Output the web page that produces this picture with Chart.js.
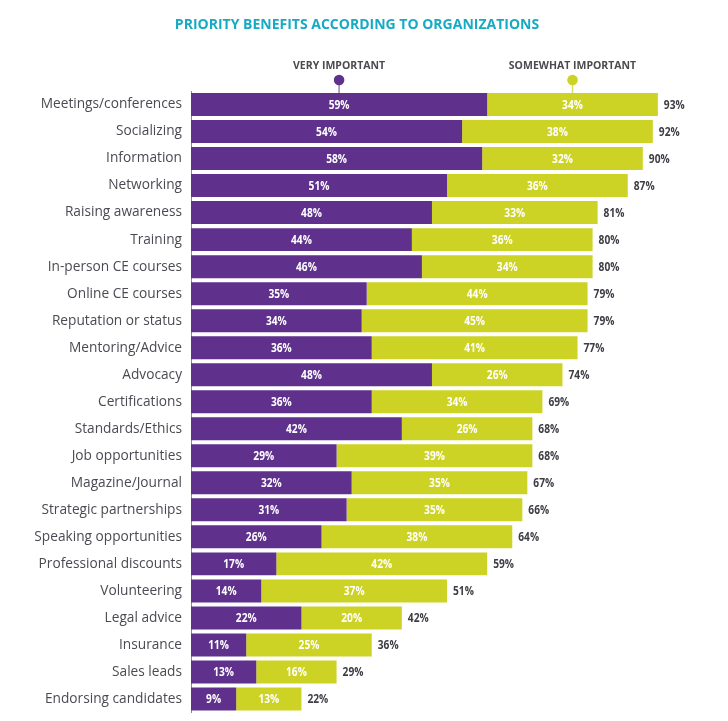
<!DOCTYPE html>
<html>
<head>
<meta charset="utf-8">
<script src="https://cdn.jsdelivr.net/npm/chart.js@4.4.0/dist/chart.umd.min.js"></script>
<style>
  html, body { margin: 0; padding: 0; background: #fff; }
  #wrap { width: 728px; height: 721px; }
</style>
</head>
<body>
<div id="wrap"><canvas id="benefitsChart" width="728" height="721"></canvas></div>
<script>
const categories = ['Meetings/conferences', 'Socializing', 'Information', 'Networking', 'Raising awareness',
    'Training', 'In-person CE courses', 'Online CE courses', 'Reputation or status', 'Mentoring/Advice',
    'Advocacy', 'Certifications', 'Standards/Ethics', 'Job opportunities', 'Magazine/Journal',
    'Strategic partnerships', 'Speaking opportunities', 'Professional discounts', 'Volunteering',
    'Legal advice', 'Insurance', 'Sales leads', 'Endorsing candidates'];
const veryImportant = [59, 54, 58, 51, 48, 44, 46, 35, 34, 36, 48, 36, 42, 29, 32, 31, 26, 17, 14, 22, 11, 13, 9];
const somewhatImportant = [34, 38, 32, 36, 33, 36, 34, 44, 45, 41, 26, 34, 26, 39, 35, 35, 38, 42, 37, 20, 25, 16, 13];
const totals = [93, 92, 90, 87, 81, 80, 80, 79, 79, 77, 74, 69, 68, 68, 67, 66, 64, 59, 51, 42, 36, 29, 22];
const seriesNames = ['VERY IMPORTANT', 'SOMEWHAT IMPORTANT'];
const chartTitle = 'PRIORITY BENEFITS ACCORDING TO ORGANIZATIONS';

const PURPLE = '#5f318d';
const LIME = '#cdd325';

// condensed-looking text: squeeze horizontally around the anchor
function narrowText(ctx, text, x, y, squeeze) {
    ctx.save();
    ctx.translate(x, y);
    ctx.scale(squeeze, 1);
    ctx.fillText(text, 0, 0);
    ctx.restore();
}

// title, legend pins and value labels
const decorations = {
    id: 'decorations',
    afterDatasetsDraw(chart) {
        const ctx = chart.ctx;
        ctx.save();
        ctx.fillStyle = '#17aac4';
        ctx.font = 'bold 14px "Open Sans"';
        ctx.textAlign = 'center';
        ctx.textBaseline = 'middle';
        ctx.fillText(chartTitle, 357, 25);

        // value labels inside bars
        ctx.font = 'bold 12px "Open Sans"';
        chart.data.datasets.forEach((ds, di) => {
            const meta = chart.getDatasetMeta(di);
            meta.data.forEach((bar, i) => {
                const cx = (bar.x + bar.base) / 2;
                ctx.fillStyle = '#ffffff';
                narrowText(ctx, ds.data[i] + '%', cx, bar.y + 1, 0.85);
            });
        });

        // totals
        const last = chart.getDatasetMeta(1);
        ctx.fillStyle = '#3d3d45';
        ctx.textAlign = 'left';
        last.data.forEach((bar, i) => {
            narrowText(ctx, totals[i] + '%', bar.x + 6, bar.y + 1, 0.85);
        });

        // legend pins above first row
        const colors = [PURPLE, LIME];
        [0, 1].forEach(di => {
            const bar = chart.getDatasetMeta(di).data[0];
            const cx = (bar.x + bar.base) / 2;
            const top = bar.y - bar.height / 2;
            ctx.strokeStyle = di === 0 ? '#9b86b5' : '#d9dd6a';
            ctx.lineWidth = 1.5;
            ctx.beginPath();
            ctx.moveTo(cx, 80);
            ctx.lineTo(cx, top);
            ctx.stroke();
            ctx.fillStyle = colors[di];
            ctx.beginPath();
            ctx.arc(cx, 80, 5.3, 0, Math.PI * 2);
            ctx.fill();
            ctx.fillStyle = '#4a4a4f';
            ctx.font = 'bold 10.5px "Open Sans"';
            ctx.textAlign = 'center';
            ctx.fillText(seriesNames[di], cx, 66);
        });
        ctx.restore();
    }
};

const ctx = document.getElementById('benefitsChart').getContext('2d');
const benefitsChart = new Chart(ctx, {
    type: 'bar',
    data: {
        labels: categories,
        datasets: [{
            label: seriesNames[0],
            data: veryImportant,
            backgroundColor: PURPLE,
            barPercentage: 0.85,
            categoryPercentage: 1
        }, {
            label: seriesNames[1],
            data: somewhatImportant,
            backgroundColor: LIME,
            barPercentage: 0.85,
            categoryPercentage: 1
        }]
    },
    options: {
        indexAxis: 'y',
        responsive: false,
        animation: false,
        layout: {
            padding: { top: 91, right: 35, bottom: 8.5, left: 0 }
        },
        plugins: {
            legend: { display: false },
            tooltip: { enabled: false }
        },
        scales: {
            x: {
                stacked: true,
                display: false,
                min: 0,
                max: 100
            },
            y: {
                stacked: true,
                grid: { display: false, drawTicks: false },
                border: { display: true, color: '#8a8a8a', width: 1 },
                ticks: {
                    color: '#4a4a52',
                    font: { family: '"Open Sans"', size: 13.7 },
                    padding: 9
                },
                afterFit(scale) {
                    scale.width = 191;
                    scale.paddingTop = 0;
                    scale.paddingBottom = 0;
                }
            }
        }
    },
    plugins: [decorations]
});
</script>
</body>
</html>
